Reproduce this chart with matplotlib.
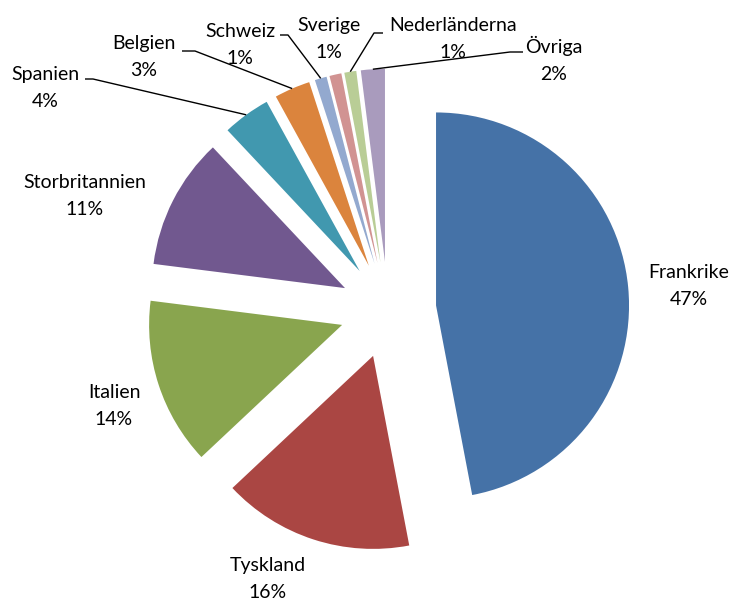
import numpy as np
import matplotlib
matplotlib.use("Agg")
import matplotlib.pyplot as plt

# Export shares by destination country
countries = ["Frankrike", "Tyskland", "Italien", "Storbritannien", "Spanien",
             "Belgien", "Schweiz", "Sverige", "Nederländerna", "Övriga"]
shares = [47, 16, 14, 11, 4, 3, 1, 1, 1, 2]
colors = ["#4572A7", "#AA4643", "#89A54E", "#71588F", "#4198AF",
          "#DB843D", "#93A9CF", "#D19392", "#B9CD96", "#A99BBD"]

W, H = 733, 600
CX, CY, R = 388, 310, 193  # pie centre and radius in pixels


def px(x, y):
    """Pixel position (from top-left) -> data coordinates (pie radius = 1)."""
    return (x - CX) / R, (CY - y) / R


fig = plt.figure(figsize=(W / 100, H / 100), dpi=100)
ax = fig.add_axes([0, 0, 1, 1])
ax.axis("off")

wedges, _ = ax.pie(shares, colors=colors, startangle=90, counterclock=False,
                   explode=[0.25] * len(shares), radius=1.0,
                   wedgeprops=dict(linewidth=0))
ax.set_xlim(-CX / R, (W - CX) / R)
ax.set_ylim(-(H - CY) / R, CY / R)
ax.set_aspect("auto")

font = dict(family=["Lato", "DejaVu Sans"], fontsize=14, color="black")
LINE_GAP = 27  # pixels between name and percentage baselines

# label placement: (centre x, baseline of the name line) in pixels
label_pos = {
    "Frankrike": (689, 278),
    "Tyskland": (268, 571),
    "Italien": (114, 398),
    "Storbritannien": (85, 188),
    "Spanien": (45, 80),
    "Belgien": (144, 49),
    "Schweiz": (240, 37),
    "Sverige": (329, 31),
    "Nederländerna": (453, 31),
    "Övriga": (554, 53),
}
for name, val in zip(countries, shares):
    cx, by = label_pos[name]
    ax.text(*px(cx, by), name, ha="center", va="baseline", **font)
    ax.text(*px(cx, by + LINE_GAP), f"{val}%", ha="center", va="baseline",
            **font)

# leader lines: start near label, short horizontal elbow, then to the wedge rim
leaders = {
    "Spanien": ((85, 79), (93, 79)),
    "Belgien": ((182, 51), (195, 51)),
    "Schweiz": ((280, 35), (288, 35)),
    "Nederländerna": ((383, 33), (374, 33)),
    "Övriga": ((523, 52), (510, 52)),
}
for name, (p0, p1) in leaders.items():
    w = wedges[countries.index(name)]
    mid = np.deg2rad((w.theta1 + w.theta2) / 2)
    ex = w.center[0] + w.r * np.cos(mid)
    ey = w.center[1] + w.r * np.sin(mid)
    a, b = px(*p0), px(*p1)
    ax.plot([a[0], b[0], ex], [a[1], b[1], ey], color="black", lw=1.0,
            solid_capstyle="butt")

fig.savefig("out.png", dpi=100)
